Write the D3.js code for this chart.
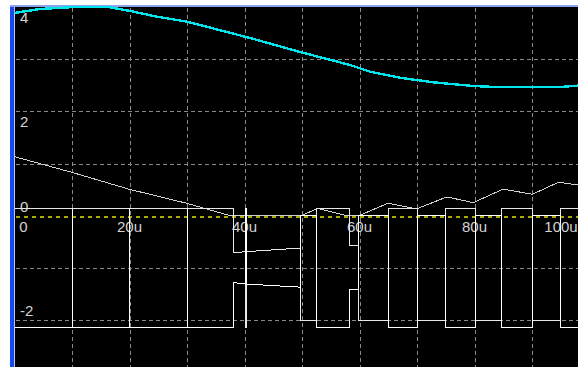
<!DOCTYPE html>
<html>
<head>
<meta charset="utf-8">
<script src="https://cdn.jsdelivr.net/npm/d3@7/dist/d3.min.js"></script>
<style>
  html, body { margin: 0; padding: 0; background: #ffffff; overflow: hidden; }
  svg { display: block; }
</style>
</head>
<body>
<svg id="scope" width="578" height="367"></svg>
<script>
// ---- time axis (microseconds) ----
const gridTimes   = [10, 20, 30, 40, 50, 60, 70, 80, 90];
const labelTimes  = [0, 20, 40, 60, 80, 100];
const timeLabels  = ["0", "20u", "40u", "60u", "80u", "100u"];

// ---- vertical axis (volts) ----
const gridVolts   = [-2, -1, 1, 2, 3];
const voltLabelValues = [4, 2, 0, -2];
const voltLabels  = ["4", "2", "0", "-2"];

// ---- traces: [time µs, volts] ----
// slow resonant voltage
const cyanTrace = [
  [0, 3.886], [4.43, 3.962], [9.65, 3.995], [16.6, 3.995], [20.09, 3.924],
  [24.78, 3.814], [30.0, 3.719], [32.26, 3.655], [40.96, 3.406], [49.65, 3.138],
  [58.35, 2.889], [61.83, 2.760], [67.04, 2.645], [72.78, 2.557], [79.74, 2.486],
  [83.57, 2.467], [94.87, 2.467], [98, 2.492]
];

// capacitor voltage, clamped at zero
const rampTrace = [
  [0, 1.131], [9.95, 0.832], [19.97, 0.506], [29.95, 0.238], [37.48, 0],
  [49.9, 0], [52.7, 0.14], [57.8, 0], [59.9, 0], [65.0, 0.24], [69.9, 0.13],
  [75.2, 0.36], [79.8, 0.25], [85.0, 0.51], [90.05, 0.41], [94.6, 0.64], [98, 0.59]
];

// upper switch node
const nodeA = [
  [0, 0.14], [10, 0.14], [10, -2.14], [10, 0.14],
  [20, 0.14], [20, -2.14], [20, 0.14],
  [30, 0.14], [30, -2.14], [30.17, -2.14], [30.17, 0.14],
  [38.05, 0.14], [38.05, -0.71],
  [40.1, -0.69], [40.1, -2.14], [40.27, -2.14], [40.27, -0.69],
  [49.8, -0.62], [49.8, -2.0],
  [52.6, -2.0], [52.6, 0.14],
  [58.2, 0.14], [58.2, -0.58],
  [59.8, -0.58], [59.8, -2.0],
  [65.0, -2.0], [65.0, 0.14],
  [70.0, 0.14], [70.0, -2.0],
  [75.0, -2.0], [75.0, 0.14],
  [80.1, 0.14], [80.1, -2.0],
  [84.7, -2.0], [84.7, 0.14],
  [90.0, 0.14], [90.0, -2.0],
  [94.9, -2.0], [94.9, 0.14],
  [98, 0.14]
];

// lower switch node
const nodeB = [
  [0, -2.14], [10, -2.14], [10, 0.14], [10, -2.14],
  [20, -2.14], [20, 0.14], [20, -2.14],
  [30, -2.14], [30, 0.14], [30.17, 0.14], [30.17, -2.14],
  [38.05, -2.14], [38.05, -1.28],
  [40.1, -1.31], [40.1, 0.14], [40.27, 0.14], [40.27, -1.31],
  [49.8, -1.37], [49.8, 0],
  [52.6, 0], [52.6, -2.14],
  [58.2, -2.14], [58.2, -1.42],
  [59.8, -1.42], [59.8, 0],
  [65.0, 0], [65.0, -2.14],
  [70.0, -2.14], [70.0, 0],
  [75.0, 0], [75.0, -2.14],
  [80.1, -2.14], [80.1, 0],
  [84.7, 0], [84.7, -2.14],
  [90.0, -2.14], [90.0, 0],
  [94.9, 0], [94.9, -2.14],
  [98, -2.14]
];

const W = 578, H = 367;
const plot = { left: 14.5, top: 7, right: 578, bottom: 367 };

const x = d3.scaleLinear().domain([0, 98]).range([plot.left, plot.right]);
const y = d3.scaleLinear().domain([-2.9, 4]).range([plot.bottom, plot.top]);

const svg = d3.select("#scope");

// window frame
svg.append("rect").attr("x", 0).attr("y", 0).attr("width", W).attr("height", H).attr("fill", "#ffffff");
svg.append("rect").attr("x", 10).attr("y", 5).attr("width", 4).attr("height", H - 5).attr("fill", "#1848f0");
svg.append("rect").attr("x", 10).attr("y", 5).attr("width", W - 10).attr("height", 2).attr("fill", "#8aa4ec");
svg.append("rect").attr("x", 14).attr("y", 7).attr("width", W - 14).attr("height", H - 7).attr("fill", "#000000");
svg.append("line").attr("x1", 14.5).attr("x2", 14.5).attr("y1", 7).attr("y2", H)
  .attr("stroke", "#b8c4f4").attr("stroke-width", 1);

const g = svg.append("g");

// dashed grid
g.selectAll("line.vgrid").data(gridTimes).join("line")
  .attr("class", "vgrid")
  .attr("x1", d => Math.round(x(d)) + 0.5).attr("x2", d => Math.round(x(d)) + 0.5)
  .attr("y1", plot.top + 1).attr("y2", plot.bottom)
  .attr("stroke", "#8a8a8a").attr("stroke-width", 1).attr("stroke-dasharray", "4,3")
  .attr("shape-rendering", "crispEdges");

g.selectAll("line.hgrid").data(gridVolts).join("line")
  .attr("class", "hgrid")
  .attr("x1", plot.left + 1).attr("x2", plot.right)
  .attr("y1", d => Math.round(y(d)) + 0.5).attr("y2", d => Math.round(y(d)) + 0.5)
  .attr("stroke", "#8a8a8a").attr("stroke-width", 1).attr("stroke-dasharray", "4,3")
  .attr("shape-rendering", "crispEdges");

// zero reference of the resonant channel
g.append("line")
  .attr("x1", plot.left + 1).attr("x2", plot.right)
  .attr("y1", Math.round(y(0)) + 0.5).attr("y2", Math.round(y(0)) + 0.5)
  .attr("stroke", "#a8a800").attr("stroke-width", 2).attr("stroke-dasharray", "4,4")
  .attr("shape-rendering", "crispEdges");

// axis labels
const labelFont = "'Liberation Sans', Arial, sans-serif";
g.selectAll("text.tlabel").data(labelTimes).join("text")
  .attr("class", "tlabel")
  .attr("x", d => Math.min(Math.max(x(d), plot.left + 9), plot.right - 17))
  .attr("y", y(0) + 16)
  .attr("text-anchor", "middle")
  .attr("font-family", labelFont).attr("font-size", 15)
  .attr("fill", "#d4d4d4")
  .text((d, i) => timeLabels[i]);

g.selectAll("text.vlabel").data(voltLabelValues).join("text")
  .attr("class", "vlabel")
  .attr("x", 20)
  .attr("y", d => d > 0 ? y(d) + 15.5 : y(d) - 4)
  .attr("font-family", labelFont).attr("font-size", 15)
  .attr("fill", "#d4d4d4")
  .text((d, i) => voltLabels[i]);

// traces
const line = d3.line().x(d => x(d[0])).y(d => y(d[1]));

g.append("path").datum(cyanTrace)
  .attr("d", line).attr("fill", "none")
  .attr("stroke", "#00e4ec").attr("stroke-width", 2.4)
  .attr("shape-rendering", "crispEdges");

g.append("path").datum(rampTrace)
  .attr("d", line).attr("fill", "none")
  .attr("stroke", "#d0d0d0").attr("stroke-width", 1)
  .attr("shape-rendering", "crispEdges");

g.append("path").datum(nodeA)
  .attr("d", line).attr("fill", "none")
  .attr("stroke", "#e8e8e8").attr("stroke-width", 1)
  .attr("shape-rendering", "crispEdges");

g.append("path").datum(nodeB)
  .attr("d", line).attr("fill", "none")
  .attr("stroke", "#ffffff").attr("stroke-width", 1)
  .attr("shape-rendering", "crispEdges");
</script>
</body>
</html>
